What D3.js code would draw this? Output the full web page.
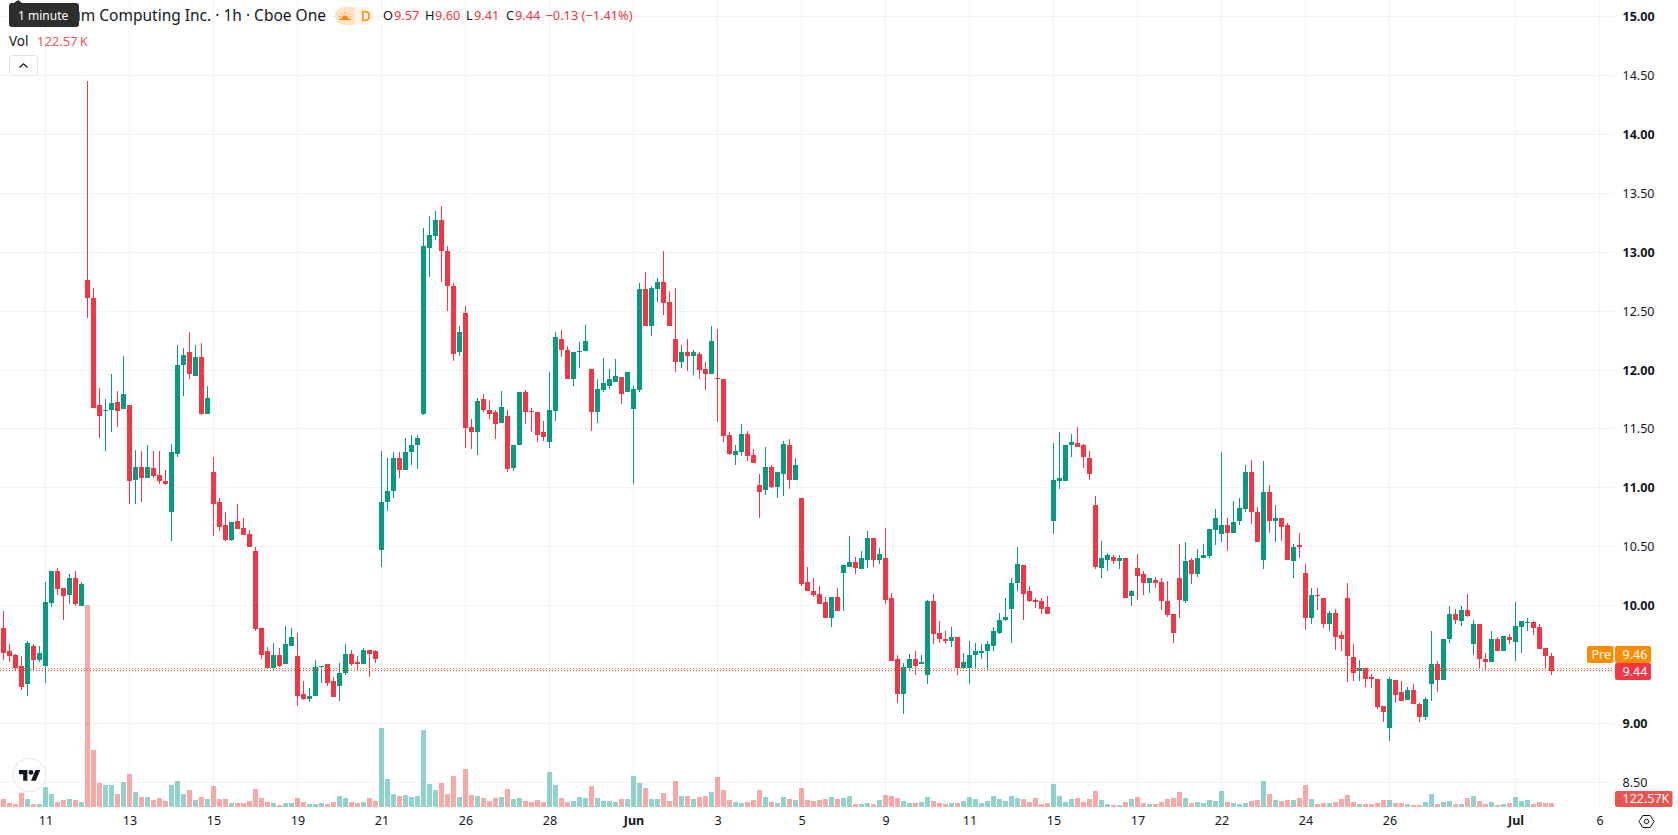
<!DOCTYPE html>
<html>
<head>
<meta charset="utf-8">
<title>Quantum Computing Inc. 1h</title>
<script src="https://cdn.jsdelivr.net/npm/d3@7/dist/d3.min.js"></script>
<style>
  html, body { margin: 0; padding: 0; background: #fff; overflow: hidden; }
  text { font-family: "Noto Sans", sans-serif; }
</style>
</head>
<body>
<svg id="chart" width="1678" height="835"></svg>
<script>
// Hourly OHLC prices, oldest bar first
const opens = [9.81,9.61,9.58,9.49,9.33,9.66,9.54,9.49,10.02,10.29,10.15,10.09,10.23,10.00,12.76,12.61,11.70,11.66,11.66,11.73,
11.67,11.70,11.07,11.18,11.08,11.17,11.11,11.06,10.79,11.29,12.04,12.15,11.95,12.11,11.63,11.13,10.88,10.68,10.56,10.72,
10.66,10.61,10.46,9.81,9.61,9.47,9.58,9.50,9.66,9.57,9.25,9.21,9.23,9.48,9.50,9.36,9.32,9.43,9.59,9.52,
9.50,9.62,9.61,10.47,10.88,10.97,11.25,11.15,11.30,11.36,11.63,13.04,13.14,13.27,13.01,12.71,12.15,12.48,11.52,11.47,
11.75,11.66,11.64,11.55,11.61,11.17,11.36,11.81,11.65,11.64,11.47,11.39,11.65,12.26,12.17,11.92,12.16,12.16,12.01,11.64,
11.83,11.86,11.90,11.94,11.81,11.67,11.83,12.69,12.37,12.69,12.75,12.58,12.26,12.07,12.15,12.12,12.14,12.01,11.97,11.93,
11.92,11.45,11.28,11.30,11.46,11.28,11.02,10.98,11.18,11.01,11.12,11.36,11.07,10.91,10.20,10.12,10.10,10.03,9.89,10.07,
10.28,10.33,10.37,10.31,10.39,10.57,10.39,10.40,10.06,9.55,9.25,9.47,9.55,9.50,9.41,10.04,9.77,9.72,9.70,9.73,
9.47,9.47,9.58,9.60,9.61,9.66,9.77,9.88,9.97,10.19,10.34,10.12,10.05,10.04,9.99,10.72,11.06,11.06,11.36,11.38,
11.36,11.25,10.85,10.32,10.39,10.41,10.38,10.40,10.08,10.32,10.27,10.19,10.22,10.20,10.04,9.93,10.23,10.04,10.39,10.27,
10.40,10.42,10.64,10.61,10.68,10.62,10.72,10.82,11.13,10.79,10.39,10.96,10.72,10.74,10.68,10.38,10.51,10.28,9.89,10.09,
10.06,9.84,9.94,9.75,10.06,9.56,9.44,9.47,9.39,9.38,9.15,8.96,9.37,9.27,9.20,9.28,9.16,9.05,9.33,9.50,
9.37,9.72,9.93,9.87,9.96,9.67,9.84,9.55,9.52,9.72,9.61,9.73,9.69,9.82,9.86,9.86,9.82,9.64,9.57];
const highs = [9.95,9.67,9.59,9.57,9.70,9.67,9.66,10.20,10.29,10.32,10.15,10.27,10.29,10.20,14.45,12.70,11.85,11.75,11.97,11.82,
12.12,11.70,11.32,11.31,11.36,11.31,11.31,11.15,11.37,12.21,12.19,12.32,12.21,12.23,11.86,11.26,10.91,10.79,10.71,10.86,
10.74,10.64,10.50,9.81,9.65,9.68,9.64,9.83,9.81,9.77,9.36,9.30,9.54,9.49,9.50,9.39,9.51,9.67,9.62,9.57,
9.64,9.62,9.62,11.31,11.25,11.30,11.30,11.42,11.45,11.45,13.21,13.31,13.35,13.39,13.05,12.74,12.37,12.54,11.58,11.76,
11.80,11.74,11.66,11.82,11.66,11.36,11.81,11.83,11.68,11.64,11.57,11.98,12.32,12.34,12.20,12.15,12.24,12.38,12.01,11.92,
12.10,12.01,12.09,11.94,11.98,11.86,12.74,12.83,12.71,12.78,13.01,12.67,12.70,12.21,12.26,12.17,12.15,12.07,12.37,12.35,
11.92,11.47,11.36,11.54,11.48,11.33,11.12,11.35,11.19,11.13,11.40,11.41,11.25,10.91,10.33,10.23,10.17,10.07,10.07,10.15,
10.34,10.59,10.41,10.46,10.63,10.57,10.49,10.66,10.11,9.58,9.51,9.59,9.61,9.58,10.05,10.10,9.87,9.78,9.82,9.73,
9.60,9.70,9.68,9.67,9.70,9.82,9.94,10.06,10.23,10.50,10.34,10.17,10.06,10.06,10.08,11.38,11.47,11.36,11.46,11.52,
11.37,11.31,10.93,10.55,10.45,10.43,10.43,10.40,10.13,10.44,10.29,10.23,10.24,10.23,10.21,9.93,10.52,10.54,10.40,10.48,
10.52,10.65,10.82,11.30,10.74,10.89,10.91,11.19,11.24,10.84,11.23,11.02,10.85,10.74,10.70,10.52,10.62,10.35,10.15,10.15,
10.06,9.95,9.97,9.78,10.19,9.67,9.54,9.47,9.42,9.38,9.15,9.39,9.37,9.36,9.31,9.33,9.17,9.22,9.78,9.53,
9.72,10.00,9.97,10.00,10.10,9.88,9.84,9.60,9.78,9.73,9.74,9.76,10.03,9.87,9.89,9.87,9.84,9.64,9.60];
const lows = [9.54,9.52,9.44,9.28,9.23,9.45,9.52,9.34,9.99,10.09,9.88,10.01,10.00,10.00,12.44,11.68,11.42,11.31,11.47,11.52,
11.67,10.86,10.86,10.88,11.08,11.08,11.03,11.02,10.55,11.26,11.78,11.92,11.95,11.62,11.63,10.59,10.63,10.55,10.55,10.65,
10.60,10.50,9.78,9.55,9.47,9.44,9.48,9.50,9.66,9.15,9.20,9.18,9.23,9.34,9.32,9.22,9.19,9.41,9.49,9.44,
9.50,9.39,9.51,10.33,10.80,10.91,11.08,11.15,11.19,11.16,11.62,12.79,13.10,12.75,12.50,12.08,12.12,11.34,11.33,11.28,
11.64,11.58,11.41,11.55,11.13,11.14,11.36,11.54,11.47,11.39,11.40,11.34,11.57,12.11,11.92,11.86,12.02,12.16,11.48,11.55,
11.81,11.84,11.90,11.71,11.81,11.03,11.81,12.37,12.29,12.58,12.47,12.37,11.98,12.02,11.99,11.96,11.92,11.83,11.97,11.56,
11.39,11.28,11.19,11.27,11.23,11.21,10.74,10.94,11.00,10.91,10.93,10.99,11.07,10.17,10.12,10.07,10.01,9.89,9.82,9.95,
9.95,10.33,10.27,10.31,10.32,10.33,10.35,10.01,9.53,9.17,9.08,9.45,9.41,9.50,9.33,9.67,9.68,9.67,9.65,9.41,
9.47,9.33,9.47,9.55,9.44,9.61,9.76,9.87,9.68,10.12,9.88,10.03,9.98,9.93,9.93,10.61,10.99,11.06,11.26,11.35,
11.17,11.07,10.31,10.23,10.29,10.35,10.31,10.06,10.00,10.05,10.09,10.11,10.15,9.96,9.90,9.68,9.89,10.02,10.18,10.24,
10.40,10.40,10.51,10.54,10.46,10.62,10.68,10.79,10.69,10.54,10.31,10.62,10.54,10.55,10.39,10.23,10.40,9.79,9.84,9.96,
9.81,9.78,9.62,9.61,9.35,9.36,9.36,9.31,9.30,9.12,9.01,8.85,9.17,9.19,9.20,9.16,9.01,9.03,9.19,9.27,
9.37,9.68,9.84,9.83,9.90,9.58,9.47,9.45,9.52,9.61,9.61,9.67,9.53,9.60,9.78,9.75,9.63,9.47,9.41];
const closes = [9.60,9.57,9.47,9.31,9.68,9.54,9.60,10.03,10.29,10.14,10.08,10.23,10.01,10.18,12.61,11.68,11.61,11.66,11.72,11.65,
11.80,11.06,11.18,11.08,11.18,11.10,11.06,11.03,11.30,12.04,12.13,11.97,12.11,11.63,11.76,10.86,10.67,10.56,10.71,10.65,
10.60,10.50,9.80,9.58,9.47,9.58,9.49,9.67,9.73,9.23,9.21,9.23,9.48,9.49,9.34,9.22,9.43,9.59,9.50,9.50,
9.62,9.59,9.55,10.88,10.97,11.25,11.15,11.30,11.36,11.42,13.05,13.15,13.27,13.01,12.71,12.14,12.32,11.51,11.47,11.74,
11.66,11.63,11.54,11.69,11.16,11.36,11.81,11.64,11.64,11.45,11.43,11.66,12.28,12.17,11.92,12.15,12.16,12.25,11.64,11.84,
11.89,11.92,11.95,11.80,11.98,11.84,12.69,12.37,12.70,12.75,12.57,12.37,12.07,12.15,12.12,12.15,12.00,11.97,12.25,11.92,
11.44,11.29,11.31,11.46,11.27,11.21,10.96,11.18,11.01,11.13,11.37,11.07,11.19,10.18,10.12,10.09,10.01,9.89,10.07,9.95,
10.34,10.37,10.32,10.40,10.57,10.39,10.44,10.05,9.53,9.25,9.48,9.55,9.49,9.52,10.04,9.76,9.72,9.70,9.73,9.47,
9.52,9.58,9.61,9.61,9.67,9.78,9.88,9.90,10.19,10.35,10.10,10.04,10.03,9.97,9.93,11.07,11.08,11.36,11.39,11.35,
11.26,11.12,10.33,10.40,10.43,10.38,10.40,10.06,10.12,10.25,10.19,10.23,10.19,10.04,9.92,9.77,10.05,10.38,10.27,10.40,
10.43,10.65,10.74,10.68,10.62,10.71,10.83,11.13,10.79,10.54,10.96,10.72,10.74,10.67,10.39,10.50,10.50,9.89,10.09,10.08,
9.84,9.94,9.73,9.72,9.57,9.43,9.47,9.38,9.38,9.14,9.10,9.38,9.24,9.19,9.28,9.16,9.05,9.21,9.50,9.37,
9.72,9.93,9.88,9.96,9.91,9.84,9.55,9.52,9.72,9.61,9.74,9.71,9.83,9.87,9.86,9.81,9.63,9.57,9.44];

// Volume per bar, in thousands of shares
const volumes = [245,123,92,428,245,92,92,612,398,153,214,245,214,153,6181,1744,734,673,673,398,
765,1010,459,306,306,214,275,184,673,796,398,520,214,306,245,643,245,245,123,123,
123,184,551,275,153,123,61,123,123,275,153,92,92,123,92,153,337,275,153,123,
153,275,184,2417,857,398,337,367,306,337,2356,704,520,734,398,949,306,1163,367,337,
275,184,275,306,551,245,275,184,153,214,153,1071,673,275,153,184,306,275,643,275,
184,184,153,245,245,949,734,581,245,245,428,184,796,337,337,245,306,337,459,918,
520,214,153,123,153,214,520,306,153,123,306,245,214,581,214,184,214,245,306,245,
275,337,92,92,123,92,214,367,337,275,184,123,123,153,306,184,123,92,123,123,
184,306,245,123,184,337,245,184,337,275,245,153,275,92,123,704,337,153,245,275,
153,245,490,214,92,61,61,153,245,306,123,92,92,153,245,275,459,275,123,153,
123,214,184,490,153,123,92,123,184,214,796,398,214,184,214,214,275,673,245,92,
123,123,153,245,367,153,92,92,92,123,214,214,123,123,92,61,61,153,398,92,
153,184,92,92,275,337,184,92,153,61,92,123,306,184,214,92,153,123,122.57];

// Axis labels and the bar index each date label sits on
const timeLabels = ["11","13","15","19","21","26","28","Jun","3","5","9","11","15","17","22","24","26","Jul","6"];
const timeIndex = [7,21,35,49,63,77,91,105,119,133,147,161,175,189,203,217,231,252,266];
const boldTimeLabels = ["Jun","Jul"];
const gridPrices = [8.5,9,9.5,10,10.5,11,11.5,12,12.5,13,13.5,14,14.5,15];
// 9.50 has a grid line, but its label gives way to the quote tags
const priceTicks = [8.5,9,10,10.5,11,11.5,12,12.5,13,13.5,14,14.5,15];

// Legend and last-price readouts
const lastPrice = 9.44;
const prePrice = 9.46;
const lastVolume = 122.57;
const ohlcLegend = [["O","9.57",383,394],["H","9.60",425,435],["L","9.41",466,474],["C","9.44",506,515]];

const UP = "#089981", DOWN = "#f23645", ORANGE = "#fb8c00", INK = "#131722", GRID = "#f1f2f4";
const VOL_UP = "rgba(38,166,154,0.5)", VOL_DOWN = "rgba(239,83,80,0.5)";

const plotRight = 1614, plotBottom = 807;
const bars = d3.range(opens.length);
const x = d3.scaleLinear().domain([0, 258]).range([3.5, 1551.5]);
const y = d3.scaleLinear().domain([9, 15]).range([723.3, 16.7]);
const volY = d3.scaleLinear().domain([0, 6181]).range([plotBottom, 605]);
const isUp = i => closes[i] >= opens[i];

const svg = d3.select("#chart");
const snap = v => Math.round(v - 0.5) + 0.5;

// Grid
const grid = svg.append("g").attr("stroke", GRID).attr("stroke-width", 1);
grid.selectAll("line.h").data(gridPrices).join("line").attr("class", "h")
  .attr("x1", 0).attr("x2", plotRight).attr("y1", d => snap(y(d))).attr("y2", d => snap(y(d)));
grid.selectAll("line.v").data(timeIndex).join("line").attr("class", "v")
  .attr("x1", d => x(d)).attr("x2", d => x(d)).attr("y1", 0).attr("y2", plotBottom);

// Volume histogram
svg.append("g").selectAll("rect").data(bars).join("rect")
  .attr("x", i => x(i) - 2.5).attr("width", 5)
  .attr("y", i => Math.round(volY(volumes[i])))
  .attr("height", i => plotBottom - Math.round(volY(volumes[i])))
  .attr("fill", i => isUp(i) ? VOL_UP : VOL_DOWN);

// Candles: wick then body
const candle = svg.append("g").selectAll("g").data(bars).join("g")
  .attr("fill", i => isUp(i) ? UP : DOWN);
candle.append("rect")
  .attr("x", i => x(i) - 0.5).attr("width", 1)
  .attr("y", i => Math.round(y(highs[i])))
  .attr("height", i => Math.max(1, Math.round(y(lows[i])) - Math.round(y(highs[i]))));
candle.append("rect")
  .attr("x", i => x(i) - 2.5).attr("width", 5)
  .attr("y", i => Math.round(y(Math.max(opens[i], closes[i]))))
  .attr("height", i => Math.max(1, Math.round(y(Math.min(opens[i], closes[i]))) - Math.round(y(Math.max(opens[i], closes[i])))));

// Price lines for regular and pre-market quotes, above the candles
[[lastPrice, DOWN], [prePrice, ORANGE]].forEach(([p, c]) => {
  const row = Math.floor(y(p) - 0.5) + 0.5;
  svg.append("line").attr("x1", 0).attr("x2", plotRight)
    .attr("y1", row).attr("y2", row)
    .attr("stroke", c).attr("stroke-width", 1).attr("stroke-dasharray", "1 2");
});

// Price axis
const priceAxis = d3.axisRight(y).tickValues(priceTicks).tickSize(0).tickPadding(7.5)
  .tickFormat(d3.format(".2f"));
const pa = svg.append("g").attr("transform", `translate(1615,0)`).call(priceAxis);
pa.select(".domain").remove();
pa.selectAll("text").attr("font-size", 12.5).attr("fill", INK)
  .attr("font-family", '"Noto Sans", sans-serif')
  .attr("font-weight", d => Number.isInteger(d) ? 700 : 400);

// Time axis
const timeAxis = d3.axisBottom(x).tickValues(timeIndex).tickSize(0).tickPadding(0)
  .tickFormat((d, i) => timeLabels[i]);
const ta = svg.append("g").attr("transform", `translate(0,${plotBottom + 9})`).call(timeAxis);
ta.select(".domain").remove();
ta.selectAll("text").attr("font-size", 12.5).attr("fill", INK)
  .attr("font-family", '"Noto Sans", sans-serif')
  .attr("font-weight", (d, i) => boldTimeLabels.includes(timeLabels[i]) ? 700 : 400);

// Value tags on the price scale
function tag(x0, y0, w, h, fill, label, tx) {
  svg.append("rect").attr("x", x0).attr("y", y0).attr("width", w).attr("height", h).attr("rx", 2).attr("fill", fill);
  svg.append("text").attr("x", tx).attr("y", y0 + h / 2).attr("dy", "0.35em")
    .attr("fill", "#fff").attr("font-size", 12.5).text(label);
}
tag(1587, 646, 26.5, 17, ORANGE, "Pre", 1591.5);
tag(1615, 646, 36, 17, ORANGE, d3.format(".2f")(prePrice), 1622.5);
tag(1615, 663, 36, 17, DOWN, d3.format(".2f")(lastPrice), 1622.5);
tag(1615, 791, 57.5, 16, "#ef5350", d3.format(".2f")(lastVolume) + "K", 1622.5);

// Scale settings button
const gear = svg.append("g").attr("transform", "translate(1646.5,821.5)").attr("fill", "none").attr("stroke", INK);
gear.append("path").attr("d", "M-7.5 0L-3.7 -6H3.7L7.5 0L3.7 6H-3.7Z");
gear.append("circle").attr("r", 2.2);

// Legend: title, session badge, OHLC values
svg.append("text").attr("x", 326).attr("y", 16).attr("dy", "0.35em").attr("text-anchor", "end")
  .attr("font-size", 15.5).attr("fill", INK).text("Quantum Computing Inc. · 1h · Cboe One");

const badge = svg.append("g");
badge.append("rect").attr("x", 335).attr("y", 7).attr("width", 39).attr("height", 18).attr("rx", 9).attr("fill", "#fff3e5");
badge.append("path").attr("d", "M344 7H355V25H344A9 9 0 0 1 344 7Z").attr("fill", "#fde4c8");
const sun = badge.append("g").attr("transform", "translate(345,16)").attr("fill", "#fb8c00").attr("stroke", "#fb8c00");
sun.append("path").attr("d", "M-3.5 3A3.5 3.5 0 0 1 3.5 3Z").attr("stroke", "none");
sun.append("path").attr("stroke-width", 1).attr("d", "M-6 3.5H6M0 -3.8V-2.2M-4 -2.5L-3 -1.4M4 -2.5L3 -1.4M-6 0.5H-4.6M6 0.5H4.6");
badge.append("text").attr("x", 361).attr("y", 16).attr("dy", "0.35em").attr("font-size", 13.5).attr("font-weight", 500)
  .attr("fill", "#fb8c00").text("D");

const legend = svg.append("g").attr("font-size", 12.8);
ohlcLegend.forEach(([k, v, kx, vx]) => {
  legend.append("text").attr("x", kx).attr("y", 16).attr("dy", "0.35em").attr("fill", INK).text(k);
  legend.append("text").attr("x", vx).attr("y", 16).attr("dy", "0.35em").attr("fill", DOWN).text(v);
});
legend.append("text").attr("x", 545.5).attr("y", 16).attr("dy", "0.35em").attr("fill", DOWN).text("−0.13 (−1.41%)");

svg.append("text").attr("x", 9).attr("y", 41).attr("dy", "0.35em").attr("font-size", 13.5).attr("fill", INK).text("Vol");
svg.append("text").attr("x", 37).attr("y", 41).attr("dy", "0.35em").attr("font-size", 13).attr("fill", "#f7525f").text("122.57\u2009K");

// Collapse button under the legend
svg.append("rect").attr("x", 9.5).attr("y", 55.5).attr("width", 28).attr("height", 20).attr("rx", 3)
  .attr("fill", "#fff").attr("stroke", "#e0e3eb");
svg.append("path").attr("d", "M19.5 67.5L23.5 63.8L27.5 67.5").attr("fill", "none").attr("stroke", INK).attr("stroke-width", 1.3);

// Hover tooltip over the start of the title
const tip = svg.append("g");
tip.append("path").attr("d", "M14 3L18 0L22 3Z").attr("fill", "#2e2e2e");
tip.append("rect").attr("x", 9).attr("y", 3).attr("width", 70).attr("height", 24).attr("rx", 3).attr("fill", "#2e2e2e");
tip.append("text").attr("x", 18).attr("y", 15.5).attr("dy", "0.35em").attr("font-size", 12).attr("fill", "#fff").text("1 minute");

// Attribution mark
const mark = svg.append("g");
mark.append("circle").attr("cx", 29.5).attr("cy", 775).attr("r", 16.5).attr("fill", "#fff").attr("stroke", "#eceded").attr("stroke-width", 1.5);
const glyph = mark.append("g").attr("transform", "translate(19,767.6) scale(0.6)").attr("fill", "#131722");
glyph.append("path").attr("d", "M14 22H7V11H0V4h14v18zM28 22h-8l7.5-18h8L28 22z");
glyph.append("circle").attr("cx", 20).attr("cy", 8).attr("r", 4);
</script>
</body>
</html>
